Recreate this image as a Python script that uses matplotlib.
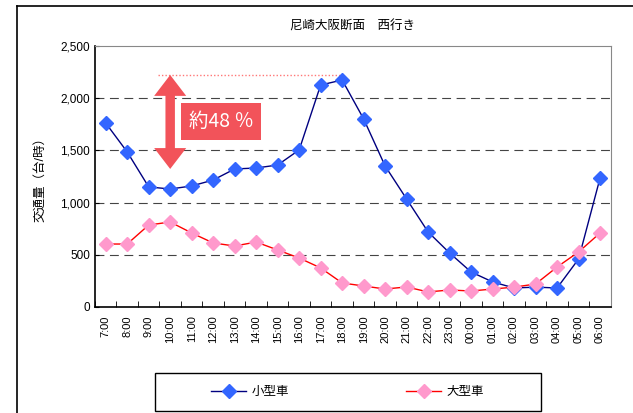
import matplotlib.pyplot as plt
from matplotlib.patches import Polygon, Rectangle
from matplotlib.lines import Line2D
from matplotlib.ticker import FuncFormatter

plt.rcParams['font.family'] = ['Liberation Sans', 'Noto Sans CJK JP', 'DejaVu Sans']

# data
hours = ["7:00", "8:00", "9:00", "10:00", "11:00", "12:00", "13:00", "14:00",
         "15:00", "16:00", "17:00", "18:00", "19:00", "20:00", "21:00", "22:00",
         "23:00", "00:00", "01:00", "02:00", "03:00", "04:00", "05:00", "06:00"]
small_cars = [1762, 1485, 1150, 1130, 1159, 1216, 1322, 1331, 1360, 1504, 2126, 2174,
              1801, 1350, 1034, 718, 517, 335, 240, 182, 190, 182, 460, 1236]
large_cars = [603, 603, 785, 814, 709, 613, 584, 622, 546, 469, 374, 230,
              201, 172, 192, 144, 163, 153, 172, 190, 220, 383, 527, 709]
title = "尼崎大阪断面　西行き"
ylabel = "交通量（台/時）"
note = "約48 ％"
peak = 2222
arrow_low = 1322

fig = plt.figure(figsize=(6.33, 4.13), dpi=100)
ax = fig.add_axes([0.150, 0.2567, 0.815, 0.632])

x = list(range(len(hours)))
ax.plot(x, small_cars, color="#000080", lw=1, marker="D", ms=7,
        mfc="#3366FF", mec="#3366FF", label="小型車", zorder=3)
ax.plot(x, large_cars, color="#FF0000", lw=1, marker="D", ms=7,
        mfc="#FF99CC", mec="#FF99CC", label="大型車", zorder=3)

ax.set_xlim(-0.5, len(hours) - 0.5)
ax.set_ylim(0, 2500)
ax.set_yticks([0, 500, 1000, 1500, 2000, 2500])
ax.yaxis.set_major_formatter(FuncFormatter(lambda v, p: f"{int(v):,}"))
ax.set_xticks(x)
ax.set_xticklabels(hours, rotation=90, fontsize=8)
ax.set_xticks([i - 0.5 for i in range(len(hours) + 1)], minor=True)
ax.tick_params(axis="x", which="major", length=0, pad=6)
ax.tick_params(axis="x", which="minor", length=4, direction="in")
ax.tick_params(axis="y", labelsize=8.5, length=3, direction="in")

for v in [500, 1000, 1500, 2000]:
    ax.axhline(v, color="#444444", lw=0.8, ls=(0, (8, 5)), zorder=1)

for s in ["top", "right"]:
    ax.spines[s].set_color("#888888")
ax.spines["left"].set_linewidth(1.2)
ax.spines["bottom"].set_linewidth(1.2)

ax.set_title(title, fontsize=9, pad=12)
ax.set_ylabel(ylabel, fontsize=9, labelpad=10)

# annotation: peak line, double arrow and note
red = "#F2535A"
ax.plot([2.42, 10.88], [peak, peak], color="#FF7777", lw=1, ls=(0, (1, 1.5)), zorder=2)
cx, hw, sw, hl = 3.0, 0.745, 0.22, 200
arrow = Polygon([(cx, peak), (cx + hw, peak - hl), (cx + sw, peak - hl),
                 (cx + sw, arrow_low + hl), (cx + hw, arrow_low + hl), (cx, arrow_low),
                 (cx - hw, arrow_low + hl), (cx - sw, arrow_low + hl),
                 (cx - sw, peak - hl), (cx - hw, peak - hl)],
                closed=True, fc=red, ec="none", zorder=4)
ax.add_patch(arrow)
ax.text(5.37, 1776, note, color="white", fontsize=14, ha="center", va="center",
        family=["Noto Sans CJK JP"],
        bbox=dict(boxstyle="square,pad=0.4", fc=red, ec="none"), zorder=5)

leg = fig.legend(loc="center", bbox_to_anchor=(0.549, 0.051), ncol=2, fontsize=9,
                 frameon=False, columnspacing=9.4, handlelength=2.8, handletextpad=0.4)
fig.add_artist(Rectangle((0.245, 0.005), 0.61, 0.092, transform=fig.transFigure,
                         fill=False, ec="black", lw=1))

# outer chart border
fig.add_artist(Line2D([0.027, 0.027], [0, 0.985], color="black", lw=1.2))
fig.add_artist(Line2D([0.027, 1.0], [0.985, 0.985], color="black", lw=1.2))

fig.savefig("out.png", dpi=100)
